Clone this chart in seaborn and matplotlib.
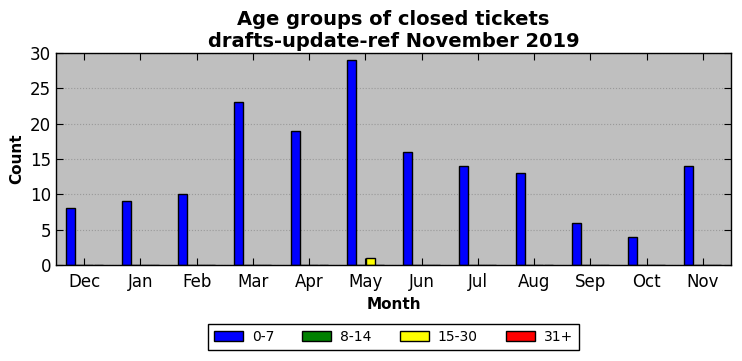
import matplotlib
matplotlib.use("Agg")
import matplotlib.pyplot as plt
import seaborn as sns
import pandas as pd

months = ["Dec", "Jan", "Feb", "Mar", "Apr", "May", "Jun", "Jul", "Aug", "Sep", "Oct", "Nov"]
groups = ["0-7", "8-14", "15-30", "31+"]
age_0_7 = [8, 9, 10, 23, 19, 29, 16, 14, 13, 6, 4, 14]
age_8_14 = [0, 0, 0, 0, 0, 0, 0, 0, 0, 0, 0, 0]
age_15_30 = [0, 0, 0, 0, 0, 1, 0, 0, 0, 0, 0, 0]
age_31p = [0, 0, 0, 0, 0, 0, 0, 0, 0, 0, 0, 0]
colors = ["#0000ff", "#008000", "#ffff00", "#ff0000"]

rows = []
for g, vals in zip(groups, [age_0_7, age_8_14, age_15_30, age_31p]):
    for m, v in zip(months, vals):
        rows.append({"Month": m, "Age": g, "Count": v})
df = pd.DataFrame(rows)

sns.set_style("ticks", {"axes.facecolor": "#bfbfbf", "axes.edgecolor": "black",
                        "text.color": "black", "axes.labelcolor": "black",
                        "xtick.color": "black", "ytick.color": "black"})
plt.rcParams["font.family"] = ["DejaVu Sans"]

fig = plt.figure(figsize=(7.42, 3.61), dpi=100)
ax = fig.add_axes([56 / 742, 1 - 265 / 361, (731 - 56) / 742, (265 - 53) / 361])

sns.barplot(data=df, x="Month", y="Count", hue="Age", order=months, hue_order=groups,
            palette=colors, width=0.66, gap=0.03, edgecolor="black", linewidth=1,
            saturation=1, ax=ax, legend=True)

ax.set_xlim(-0.5, 11.5)
ax.set_ylim(0, 30)
ax.set_yticks(range(0, 31, 5))
ax.yaxis.grid(True, linestyle=":", color="#999999", linewidth=0.8)
ax.set_axisbelow(True)
ax.tick_params(direction="in", top=True, right=True, labelsize=12, length=5, width=0.8,
               colors="black")
ax.tick_params(axis="x", pad=6)
for s in ax.spines.values():
    s.set_linewidth(1)
ax.set_xlabel("Month", fontsize=11, fontweight="bold", color="black")
ax.set_ylabel("Count", fontsize=11, fontweight="bold", color="black")
ax.set_title("Age groups of closed tickets\ndrafts-update-ref November 2019",
             fontsize=14, fontweight="bold", linespacing=1.2, pad=4, color="black")

h, l = ax.get_legend_handles_labels()
ax.get_legend().remove()
leg = fig.legend(h, l, loc="lower center", bbox_to_anchor=(393.5 / 742, 0.01), ncol=4,
                 fontsize=10, frameon=True, fancybox=False, edgecolor="black",
                 facecolor="white", framealpha=1,
                 handlelength=2.1, handleheight=0.7, handletextpad=0.65,
                 columnspacing=2.0, borderpad=0.45)
leg.get_frame().set_linewidth(1)
for t in leg.get_texts():
    t.set_color("black")

fig.savefig("out.png", dpi=100, facecolor="white")
